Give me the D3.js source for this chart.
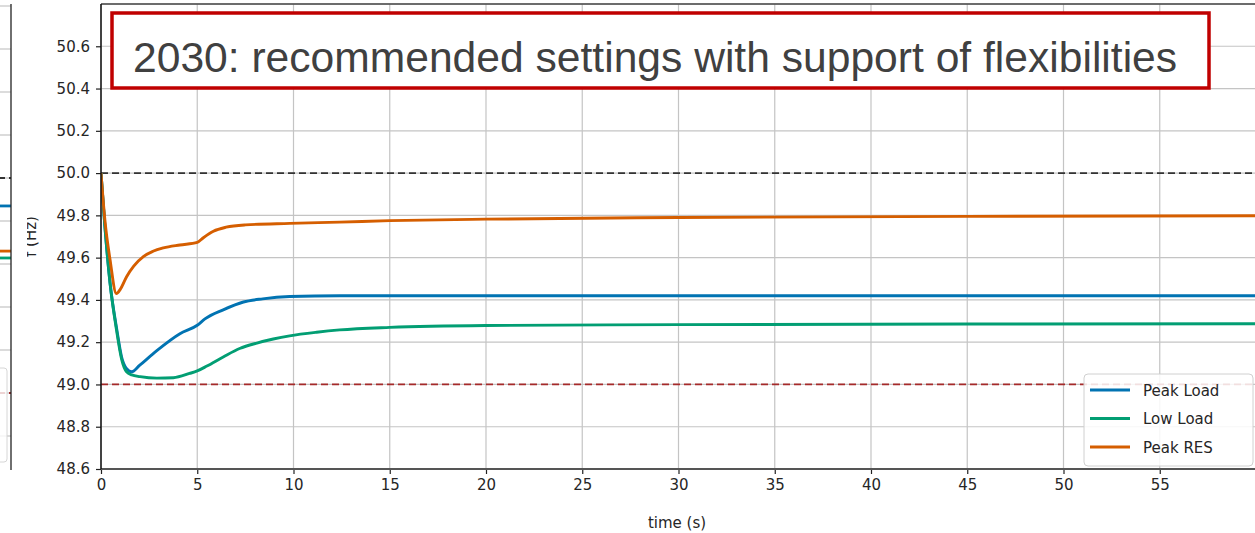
<!DOCTYPE html>
<html lang="en">
<head>
  <meta charset="UTF-8">
  <title>2030: recommended settings with support of flexibilities</title>
  <script src="https://d3js.org/d3.v7.min.js"></script>
  <style>
    body { margin: 0; background: #ffffff; overflow: hidden; }
    svg { display: block; }
    .tick text { font-family: "DejaVu Sans", sans-serif; font-size: 15px; fill: #262626; }
    .grid line { stroke: #c4c4c4; stroke-width: 1.2px; }
  </style>
</head>
<body>
  <svg id="chart" width="1255" height="533"></svg>
  <script>
    // --- data ---
    const titleText = "2030: recommended settings with support of flexibilities";
    const seriesNames = ["Peak Load", "Low Load", "Peak RES"];
    const seriesColors = ["#0173b2", "#029e73", "#d55e00"];

    const peakLoadT = [0, 0.2, 0.47, 0.82, 1.07, 1.33, 1.6, 2.0, 2.9, 4.1, 5.0, 5.4, 6.35, 7.4, 8.4, 9.8, 12.4, 20, 30, 45, 60];
    const peakLoadF = [50.0, 49.75, 49.48, 49.26, 49.13, 49.075, 49.06, 49.09, 49.16, 49.24, 49.28, 49.31, 49.353, 49.39, 49.405, 49.416, 49.42, 49.42, 49.42, 49.42, 49.42];

    const lowLoadT = [0, 0.2, 0.47, 0.82, 1.07, 1.33, 1.6, 2.03, 2.9, 3.76, 4.6, 5.0, 5.5, 6.35, 7.2, 8.1, 8.95, 9.8, 11.2, 12.4, 15, 20, 30, 45, 60];
    const lowLoadF = [50.0, 49.75, 49.48, 49.25, 49.12, 49.06, 49.045, 49.037, 49.03, 49.032, 49.052, 49.064, 49.087, 49.13, 49.17, 49.196, 49.215, 49.23, 49.247, 49.258, 49.27, 49.279, 49.283, 49.286, 49.287];

    const peakResT = [0, 0.2, 0.47, 0.8, 1.0, 1.33, 1.7, 2.2, 2.7, 3.24, 4.1, 5.0, 5.3, 5.84, 6.5, 7.5, 9.8, 12.4, 15, 20, 30, 45, 60];
    const peakResF = [50.0, 49.78, 49.59, 49.43, 49.45, 49.51, 49.56, 49.605, 49.63, 49.646, 49.66, 49.672, 49.693, 49.725, 49.744, 49.755, 49.762, 49.768, 49.775, 49.782, 49.79, 49.795, 49.798];

    const xTicks = [0, 5, 10, 15, 20, 25, 30, 35, 40, 45, 50, 55];
    const yTicks = [48.6, 48.8, 49.0, 49.2, 49.4, 49.6, 49.8, 50.0, 50.2, 50.4, 50.6];
    const refLines = [50.0, 49.0];
    const refColors = ["#333333", "#a52a2a"];

    // end values of the neighbouring (cut-off) chart on the left
    const leftStubF = [49.87, 49.628, 49.66];

    const series = [
      { t: peakLoadT, f: peakLoadF },
      { t: lowLoadT, f: lowLoadF },
      { t: peakResT, f: peakResF }
    ];

    const svg = d3.select("#chart");
    const defs = svg.append("defs");

    // --- left neighbour panel (mostly outside the picture) ---
    const left = { r: 11, t: 4, b: 470 };
    const yL = d3.scaleLinear().domain([49.0, 50.0]).range([393, 178]);
    defs.append("clipPath").attr("id", "clipL")
      .append("rect").attr("x", 0).attr("y", left.t).attr("width", left.r).attr("height", left.b - left.t);
    const gL = svg.append("g").attr("clip-path", "url(#clipL)");
    gL.selectAll("line.gl").data(d3.range(48.6, 50.81, 0.2)).enter().append("line")
      .attr("x1", 0).attr("x2", left.r).attr("y1", d => yL(d)).attr("y2", d => yL(d))
      .attr("stroke", "#c4c4c4").attr("stroke-width", 1.2);
    gL.selectAll("line.ref").data(refLines).enter().append("line")
      .attr("x1", 0).attr("x2", left.r).attr("y1", d => yL(d)).attr("y2", d => yL(d))
      .attr("stroke", (d, i) => refColors[i]).attr("stroke-width", 2).attr("stroke-dasharray", "7,4").attr("stroke-dashoffset", 2);
    gL.selectAll("line.stub").data(leftStubF).enter().append("line")
      .attr("x1", 0).attr("x2", left.r).attr("y1", d => yL(d)).attr("y2", d => yL(d))
      .attr("stroke", (d, i) => seriesColors[i]).attr("stroke-width", 2.8);
    gL.append("rect").attr("x", -100).attr("y", 368).attr("width", 107).attr("height", 94).attr("rx", 3)
      .attr("fill", "white").attr("fill-opacity", 0.8).attr("stroke", "#d6d6d6");
    svg.append("line").attr("x1", left.r).attr("x2", left.r).attr("y1", left.t).attr("y2", left.b)
      .attr("stroke", "#222").attr("stroke-width", 1.3);

    // --- main panel ---
    const m = { l: 101, r: 1256, t: 4, b: 469 };
    const x = d3.scaleLinear().domain([0, 60]).range([m.l, m.r]);
    const y = d3.scaleLinear().domain([48.6, 50.8]).range([m.b, m.t]);

    defs.append("clipPath").attr("id", "clipM")
      .append("rect").attr("x", m.l).attr("y", m.t).attr("width", m.r - m.l).attr("height", m.b - m.t);

    // grid
    svg.append("g").attr("class", "grid")
      .selectAll("line").data(xTicks).enter().append("line")
      .attr("x1", d => x(d)).attr("x2", d => x(d)).attr("y1", m.t).attr("y2", m.b);
    svg.append("g").attr("class", "grid")
      .selectAll("line").data(yTicks.concat([50.8])).enter().append("line")
      .attr("x1", m.l).attr("x2", m.r).attr("y1", d => y(d)).attr("y2", d => y(d));

    const plot = svg.append("g").attr("clip-path", "url(#clipM)");

    plot.selectAll("line.ref").data(refLines).enter().append("line")
      .attr("x1", m.l).attr("x2", m.r).attr("y1", d => y(d)).attr("y2", d => y(d))
      .attr("stroke", (d, i) => refColors[i]).attr("stroke-width", 1.7).attr("stroke-dasharray", "7,4");

    const line = d3.line().curve(d3.curveMonotoneX);
    plot.selectAll("path.series").data(series).enter().append("path")
      .attr("fill", "none")
      .attr("stroke", (d, i) => seriesColors[i])
      .attr("stroke-width", 2.9)
      .attr("stroke-linejoin", "round")
      .attr("d", d => line(d.t.map((t, i) => [x(t), y(d.f[i])])));

    // axes
    const xAxis = svg.append("g").attr("transform", `translate(0,${m.b})`)
      .call(d3.axisBottom(x).tickValues(xTicks).tickFormat(d3.format("d")).tickSize(5).tickPadding(5));
    const yAxis = svg.append("g").attr("transform", `translate(${m.l},0)`)
      .call(d3.axisLeft(y).tickValues(yTicks).tickFormat(d3.format(".1f")).tickSize(5).tickPadding(6));
    [xAxis, yAxis].forEach(a => {
      a.select(".domain").remove();
      a.selectAll(".tick line").attr("stroke", "#222").attr("stroke-width", 1.2);
    });

    // frame
    svg.append("line").attr("x1", m.l).attr("x2", m.r).attr("y1", m.b).attr("y2", m.b).attr("stroke", "#555").attr("stroke-width", 2);
    svg.append("line").attr("x1", m.l).attr("x2", m.r).attr("y1", m.t).attr("y2", m.t).attr("stroke", "#444").attr("stroke-width", 1.5);
    svg.append("line").attr("x1", m.l).attr("x2", m.l).attr("y1", m.t).attr("y2", m.b).attr("stroke", "#111").attr("stroke-width", 1.5);

    // axis labels
    svg.append("text").attr("x", (m.l + 1253) / 2).attr("y", 528)
      .attr("text-anchor", "middle").attr("font-family", "DejaVu Sans, sans-serif").attr("font-size", 15).attr("fill", "#262626")
      .text("time (s)");
    defs.append("clipPath").attr("id", "clipY")
      .append("rect").attr("x", 27).attr("y", 0).attr("width", 40).attr("height", 533);
    svg.append("g").attr("clip-path", "url(#clipY)")
      .append("text").attr("transform", `translate(36,${(m.t + m.b) / 2}) rotate(-90)`)
      .attr("text-anchor", "middle").attr("font-family", "DejaVu Sans, sans-serif").attr("font-size", 15).attr("fill", "#262626")
      .text("f (Hz)");

    // legend
    const lg = svg.append("g").attr("transform", "translate(1084,374)");
    lg.append("rect").attr("width", 169).attr("height", 92).attr("rx", 4)
      .attr("fill", "white").attr("fill-opacity", 0.85).attr("stroke", "#d0d0d0");
    const items = lg.selectAll("g.item").data(seriesNames).enter().append("g")
      .attr("transform", (d, i) => `translate(0,${16 + i * 28.5})`);
    items.append("line").attr("x1", 6).attr("x2", 46).attr("stroke", (d, i) => seriesColors[i]).attr("stroke-width", 2.8);
    items.append("text").attr("x", 59).attr("y", 5.5)
      .attr("font-family", "DejaVu Sans, sans-serif").attr("font-size", 15).attr("fill", "#262626")
      .text(d => d);

    // title box
    svg.append("rect").attr("x", 112).attr("y", 13).attr("width", 1097).attr("height", 75)
      .attr("fill", "white").attr("stroke", "#c00000").attr("stroke-width", 3.5);
    svg.append("text").attr("x", 133).attr("y", 72)
      .attr("font-family", "Liberation Sans, Arial, sans-serif").attr("font-size", 42.6).attr("fill", "#404040")
      .text(titleText);
  </script>
</body>
</html>
